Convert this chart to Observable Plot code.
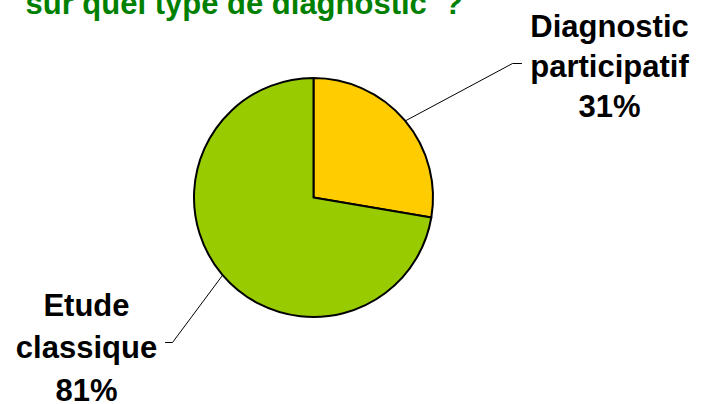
<!DOCTYPE html>
<html>
<head>
<meta charset="utf-8">
<script src="https://cdn.jsdelivr.net/npm/d3@7"></script>
<script src="https://cdn.jsdelivr.net/npm/@observablehq/plot@0.6"></script>
<style>
  html, body { margin: 0; padding: 0; background: #fff; }
  svg { display: block; }
</style>
</head>
<body>
<div id="chart"></div>
<script>
const title = "sur quel type de diagnostic\u00a0\u00a0?";
const categories = ["Diagnostic participatif", "Etude classique"];
const labelWords = [["Diagnostic", "participatif"], ["Etude", "classique"]];
const values = [31, 81];
const colors = ["#FFCC00", "#99CC00"];

const W = 701, H = 404;
const cx = 313.5, cy = 197.5, R = 119.5;
const font = "'Liberation Sans', Arial, sans-serif";
const fs = 31;

const arcs = d3.pie().sort(null).startAngle(0).endAngle(2 * Math.PI)(values);
const midAngle = arcs.map(a => (a.startAngle + a.endAngle) / 2);

// label layout (pixel positions)
const labelCenters = [{x: 609, y0: 36.5, step: 40}, {x: 86, y0: 315, step: 42.5}];
const elbows = [{x: 512, y: 63, ex: 521}, {x: 172, y: 342, ex: 165}];

const leaderData = [];
categories.forEach((c, i) => {
  const a = midAngle[i];
  leaderData.push({c, x: cx + R * Math.sin(a), y: cy - R * Math.cos(a)});
  leaderData.push({c, x: elbows[i].x, y: elbows[i].y});
  leaderData.push({c, x: elbows[i].ex, y: elbows[i].y});
});

const textData = [];
categories.forEach((c, i) => {
  const lines = [...labelWords[i], `${values[i]}%`];
  lines.forEach((t, j) => {
    textData.push({t, x: labelCenters[i].x, y: labelCenters[i].y0 + j * labelCenters[i].step - 0.32 * fs});
  });
});

const pieMark = (index, scales) => {
  const g = d3.create("svg:g")
    .attr("transform", `translate(${scales.x(cx)},${scales.y(cy)})`);
  const arc = d3.arc().innerRadius(0).outerRadius(R);
  g.selectAll("path").data(arcs).join("path")
    .attr("d", arc)
    .attr("fill", (d, i) => colors[i])
    .attr("stroke", "#000")
    .attr("stroke-width", 2)
    .attr("stroke-linejoin", "round");
  return g.node();
};

const chart = Plot.plot({
  width: W,
  height: H,
  margin: 0,
  x: {domain: [0, W], range: [0, W], axis: null},
  y: {domain: [0, H], range: [0, H], axis: null},
  style: {fontFamily: font, background: "#fff"},
  marks: [
    Plot.line(leaderData, {x: "x", y: "y", z: "c", stroke: "#000", strokeWidth: 1}),
    pieMark,
    Plot.text([title], {x: () => 25, y: () => 13 - 0.32 * fs, text: d => d, textAnchor: "start",
      fontSize: fs, fontWeight: "bold", fill: "#008000", fontFamily: font}),
    Plot.text(textData, {x: "x", y: "y", text: "t", textAnchor: "middle",
      fontSize: fs, fontWeight: "bold", fill: "#000", fontFamily: font})
  ]
});
document.getElementById("chart").append(chart);
</script>
</body>
</html>
